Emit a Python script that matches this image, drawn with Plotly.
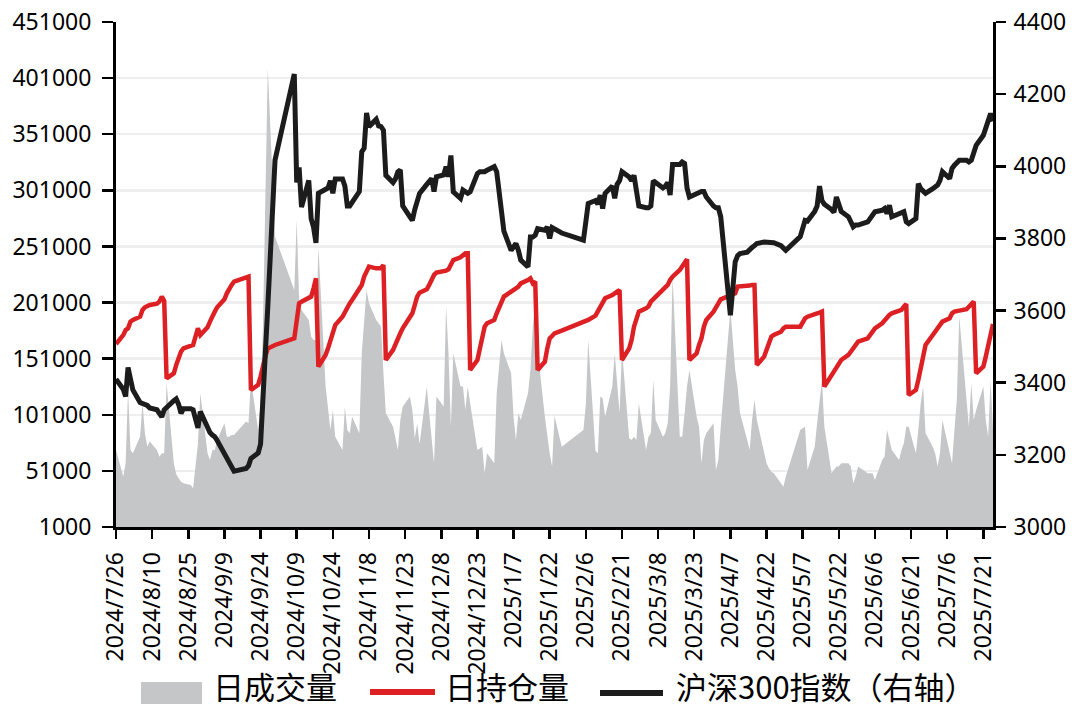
import plotly.graph_objects as go

# ---------------- data ----------------
trade_dates = [
    "2024-07-26", "2024-07-29", "2024-07-30", "2024-07-31",
    "2024-08-01", "2024-08-02", "2024-08-05", "2024-08-06", "2024-08-07", "2024-08-08", "2024-08-09", "2024-08-12", "2024-08-13", "2024-08-14", "2024-08-15", "2024-08-16", "2024-08-19", "2024-08-20", "2024-08-21", "2024-08-22", "2024-08-23", "2024-08-26", "2024-08-27", "2024-08-28", "2024-08-29", "2024-08-30",
    "2024-09-02", "2024-09-03", "2024-09-04", "2024-09-05", "2024-09-06", "2024-09-09", "2024-09-10", "2024-09-11", "2024-09-12", "2024-09-13", "2024-09-18", "2024-09-19", "2024-09-20", "2024-09-23", "2024-09-24", "2024-09-25", "2024-09-26", "2024-09-27", "2024-09-30",
    "2024-10-08", "2024-10-09", "2024-10-10", "2024-10-11", "2024-10-14", "2024-10-15", "2024-10-16", "2024-10-17", "2024-10-18", "2024-10-21", "2024-10-22", "2024-10-23", "2024-10-24", "2024-10-25", "2024-10-28", "2024-10-29", "2024-10-30", "2024-10-31",
    "2024-11-01", "2024-11-04", "2024-11-05", "2024-11-06", "2024-11-07", "2024-11-08", "2024-11-11", "2024-11-12", "2024-11-13", "2024-11-14", "2024-11-15", "2024-11-18", "2024-11-19", "2024-11-20", "2024-11-21", "2024-11-22", "2024-11-25", "2024-11-26", "2024-11-27", "2024-11-28", "2024-11-29",
    "2024-12-02", "2024-12-03", "2024-12-04", "2024-12-05", "2024-12-06", "2024-12-09", "2024-12-10", "2024-12-11", "2024-12-12", "2024-12-13", "2024-12-16", "2024-12-17", "2024-12-18", "2024-12-19", "2024-12-20", "2024-12-23", "2024-12-24", "2024-12-25", "2024-12-26", "2024-12-27", "2024-12-30", "2024-12-31",
    "2025-01-02", "2025-01-03", "2025-01-06", "2025-01-07", "2025-01-08", "2025-01-09", "2025-01-10", "2025-01-13", "2025-01-14", "2025-01-15", "2025-01-16", "2025-01-17", "2025-01-20", "2025-01-21", "2025-01-22", "2025-01-23", "2025-01-24", "2025-01-27",
    "2025-02-05", "2025-02-06", "2025-02-07", "2025-02-10", "2025-02-11", "2025-02-12", "2025-02-13", "2025-02-14", "2025-02-17", "2025-02-18", "2025-02-19", "2025-02-20", "2025-02-21", "2025-02-24", "2025-02-25", "2025-02-26", "2025-02-27", "2025-02-28",
    "2025-03-03", "2025-03-04", "2025-03-05", "2025-03-06", "2025-03-07", "2025-03-10", "2025-03-11", "2025-03-12", "2025-03-13", "2025-03-14", "2025-03-17", "2025-03-18", "2025-03-19", "2025-03-20", "2025-03-21", "2025-03-24", "2025-03-25", "2025-03-26", "2025-03-27", "2025-03-28", "2025-03-31",
    "2025-04-01", "2025-04-02", "2025-04-03", "2025-04-07", "2025-04-08", "2025-04-09", "2025-04-10", "2025-04-11", "2025-04-14", "2025-04-15", "2025-04-16", "2025-04-17", "2025-04-18", "2025-04-21", "2025-04-22", "2025-04-23", "2025-04-24", "2025-04-25", "2025-04-28", "2025-04-29", "2025-04-30",
    "2025-05-06", "2025-05-07", "2025-05-08", "2025-05-09", "2025-05-12", "2025-05-13", "2025-05-14", "2025-05-15", "2025-05-16", "2025-05-19", "2025-05-20", "2025-05-21", "2025-05-22", "2025-05-23", "2025-05-26", "2025-05-27", "2025-05-28", "2025-05-29", "2025-05-30",
    "2025-06-03", "2025-06-04", "2025-06-05", "2025-06-06", "2025-06-09", "2025-06-10", "2025-06-11", "2025-06-12", "2025-06-13", "2025-06-16", "2025-06-17", "2025-06-18", "2025-06-19", "2025-06-20", "2025-06-23", "2025-06-24", "2025-06-25", "2025-06-26", "2025-06-27", "2025-06-30",
    "2025-07-01", "2025-07-02", "2025-07-03", "2025-07-04", "2025-07-07", "2025-07-08", "2025-07-09", "2025-07-10", "2025-07-11", "2025-07-14", "2025-07-15", "2025-07-16", "2025-07-17", "2025-07-18", "2025-07-21", "2025-07-22", "2025-07-23", "2025-07-24", "2025-07-25",
]

# 日成交量 (left axis)
daily_volume = [
    69600, 45900, 57800, 123100,
    69600, 66700, 81500, 111200, 84500, 72600, 77100, 69600, 63700, 66700, 66700, 129000, 57800, 48000, 44400, 41400, 40000, 38500, 35500, 57800, 75000, 120100,
    66700, 60700, 69600, 69600, 78600, 93400, 81500, 81500, 83000, 83000, 94900, 93400, 132000, 87500, 111200, 180000, 280000, 410000, 259700,
    212200, 274600, 203300, 194400, 185500, 170600, 167700, 167700, 250800, 126100, 105300, 87500, 105300, 81500, 69600, 108200, 87500, 84500,
    99300, 84500, 155800, 185500, 212200, 200300, 185500, 182500, 179500, 138000, 102300, 90400, 78600, 69600, 96400, 108200, 117200, 105000, 80000, 93000, 75000,
    126000, 102300, 78600, 57800, 117200, 108300, 197400, 155800, 90400, 155800, 126100, 126100, 105300, 126100, 111200, 69600, 71000, 72600, 48800, 66700, 57800, 120100,
    167700, 155800, 138000, 99300, 78600, 102300, 96400, 120100, 140900, 180000, 200300, 158800, 99300, 81500, 66700, 54800, 100000, 72600,
    87500, 110000, 167700, 69000, 66700, 117200, 115700, 99300, 126100, 155800, 126100, 102300, 158800, 80000, 78600, 81500, 78600, 111200,
    69600, 81500, 84500, 132000, 96400, 81500, 84500, 93400, 126100, 224100, 81500, 81500, 102300, 126100, 140900, 99300, 90400, 57800, 78600, 84500, 93400,
    51800, 60700, 90400, 195000, 170600, 140900, 126100, 102300, 78600, 69600, 96400, 114200, 96400, 66700, 57800, 53300, 50300, 48800, 40000, 36900, 45900,
    87500, 88900, 90400, 51800, 72600, 93400, 111200, 132000, 90400, 48800, 51800, 54800, 54800, 57800, 57800, 54800, 40000, 45900, 54800,
    48800, 48800, 48800, 42900, 60700, 63700, 87500, 78600, 69600, 60700, 69600, 75600, 90400, 90400, 66700, 87500, 111200, 126100, 84500, 72600,
    66700, 54800, 66700, 96400, 66700, 57800, 87500, 115000, 188400, 120000, 90400, 129000, 96400, 105300, 126100, 96400, 81500, 132000, 87500,
]

# 日持仓量 (left axis)
daily_open_interest = [
    164000, 172000, 176500, 178000,
    184000, 185500, 188400, 194400, 196800, 198300, 198800, 200000, 201800, 206300, 202400, 133500, 138000, 145400, 151400, 157300, 160200, 162300, 163200, 170600, 178000, 172100,
    178900, 184000, 187600, 192900, 196800, 203900, 209200, 213700, 216700, 219600, 223500, 224100, 123100, 127600, 135000, 146000, 153000, 160000, 163200,
    169100, 188400, 200300, 201800, 204800, 206300, 213700, 222600, 143900, 154300, 160200, 166200, 175000, 181000, 188400, 192900, 197400, 200300,
    203300, 212200, 216700, 224100, 230000, 233000, 231500, 231500, 231500, 234500, 149800, 158800, 164700, 169100, 173600, 178000, 187000, 191400, 198800, 206300, 209800,
    212800, 216700, 221100, 225600, 227700, 228500, 229400, 230600, 236000, 238900, 241300, 243400, 244900, 244900, 140900, 149800, 158800, 166200, 179500, 182500, 185500, 191400,
    201800, 206300, 210700, 212800, 213700, 215200, 218100, 221100, 222600, 218100, 219600, 140900, 148300, 160200, 169100, 171200, 173600, 176000,
    184000, 185500, 185500, 189300, 192900, 197400, 201800, 204800, 207700, 209800, 210700, 212200, 149800, 160200, 167700, 179500, 185500, 192900,
    195900, 197400, 201800, 203900, 206300, 212200, 213700, 216700, 221100, 224100, 230000, 233000, 236000, 239500, 149800, 155800, 163200, 169100, 179500, 185500, 192900,
    195900, 200300, 203900, 207700, 208600, 209200, 215200, 215200, 216100, 216100, 216700, 216700, 145400, 152800, 158800, 166200, 170600, 172100, 175000, 178000, 179500,
    179500, 184000, 187000, 188400, 191400, 191400, 192000, 192900, 126100, 136500, 140900, 143900, 146900, 149800, 154300, 157300, 160200, 163200, 166200,
    169100, 172100, 176600, 178000, 182500, 185500, 187000, 189900, 191400, 192900, 194400, 197400, 199700, 118600, 123100, 132000, 143900, 155800, 163200, 172100,
    175000, 179500, 181900, 184000, 187000, 191400, 192900, 192900, 193800, 195000, 197400, 200300, 201800, 138000, 143900, 152800, 161700, 170600, 182000,
]

# 沪深300指数 (right axis)
csi300_index = [
    3410, 3382, 3362, 3442,
    3410, 3380, 3345, 3342, 3342, 3337, 3330, 3325, 3315, 3305, 3325, 3332, 3350, 3355, 3340, 3315, 3328, 3328, 3325, 3300, 3275, 3320,
    3272, 3262, 3255, 3250, 3240, 3205, 3195, 3185, 3170, 3155, 3162, 3170, 3190, 3205, 3230, 3390, 3485, 3610, 4017,
    4256, 3955, 3997, 3887, 3961, 3855, 3831, 3788, 3925, 3935, 3940, 3960, 3925, 3965, 3965, 3945, 3890, 3890,
    3900, 3930, 4040, 4050, 4148, 4110, 4130, 4112, 4110, 4100, 3975, 3955, 3965, 3985, 3990, 3890, 3860, 3850, 3880, 3906, 3925,
    3950, 3960, 3966, 3930, 3971, 3976, 3999, 3971, 4030, 3929, 3911, 3934, 3929, 3925, 3929, 3980, 3985, 3985, 3985, 3989, 3999, 3985,
    3870, 3820, 3767, 3777, 3786, 3767, 3740, 3721, 3804, 3804, 3809, 3827, 3823, 3832, 3800, 3830, 3827, 3815,
    3795, 3845, 3897, 3905, 3895, 3920, 3883, 3925, 3945, 3911, 3950, 3960, 3985, 3970, 3960, 3975, 3930, 3890,
    3885, 3885, 3890, 3960, 3955, 3940, 3945, 3955, 3920, 4005, 4005, 4012, 4008, 3940, 3915, 3925, 3930, 3930, 3930, 3915, 3890,
    3885, 3885, 3860, 3587, 3675, 3735, 3752, 3758, 3762, 3770, 3775, 3780, 3786, 3790, 3790, 3790, 3790, 3788, 3780, 3775, 3767,
    3805, 3835, 3850, 3848, 3875, 3890, 3945, 3905, 3895, 3880, 3872, 3915, 3890, 3875, 3860, 3846, 3832, 3837, 3837,
    3846, 3855, 3869, 3874, 3878, 3883, 3869, 3892, 3860, 3869, 3874, 3874, 3846, 3841, 3855, 3952, 3938, 3929, 3925, 3938,
    3943, 3948, 3961, 3985, 3966, 3994, 4003, 4012, 4017, 4017, 4012, 4017, 4040, 4058, 4086, 4110, 4125, 4146, 4125,
]

assert len(trade_dates) == len(daily_volume) == len(daily_open_interest) == len(csi300_index)

x_tick_dates = [
    "2024-07-26", "2024-08-10", "2024-08-25", "2024-09-09", "2024-09-24", "2024-10-09",
    "2024-10-24", "2024-11-08", "2024-11-23", "2024-12-08", "2024-12-23", "2025-01-07",
    "2025-01-22", "2025-02-06", "2025-02-21", "2025-03-08", "2025-03-23", "2025-04-07",
    "2025-04-22", "2025-05-07", "2025-05-22", "2025-06-06", "2025-06-21", "2025-07-06",
    "2025-07-21",
]
x_tick_labels = [
    "2024/7/26", "2024/8/10", "2024/8/25", "2024/9/9", "2024/9/24", "2024/10/9",
    "2024/10/24", "2024/11/8", "2024/11/23", "2024/12/8", "2024/12/23", "2025/1/7",
    "2025/1/22", "2025/2/6", "2025/2/21", "2025/3/8", "2025/3/23", "2025/4/7",
    "2025/4/22", "2025/5/7", "2025/5/22", "2025/6/6", "2025/6/21", "2025/7/6",
    "2025/7/21",
]
left_ticks = [1000, 51000, 101000, 151000, 201000, 251000, 301000, 351000, 401000, 451000]
right_ticks = [3000, 3200, 3400, 3600, 3800, 4000, 4200, 4400]

series_names = ["日成交量", "日持仓量", "沪深300指数（右轴）"]

# ---------------- style ----------------
GRAY = "#c5c6c8"
RED = "#dd2024"
BLACK = "#1c1c1c"
TICK_FONT = dict(family="Noto Sans, Open Sans, sans-serif", size=23, color="#000000")
LEG_FONT = dict(family="Noto Sans CJK SC, Noto Sans, sans-serif", size=31, color="#000000")

fig = go.Figure()
fig.add_trace(go.Scatter(
    x=trade_dates, y=daily_volume, name=series_names[0], mode="lines",
    fill="tozeroy", fillcolor=GRAY, line=dict(color=GRAY, width=0), yaxis="y",
))
fig.add_trace(go.Scatter(
    x=trade_dates, y=daily_open_interest, name=series_names[1], mode="lines",
    line=dict(color=RED, width=4.5), yaxis="y",
))
fig.add_trace(go.Scatter(
    x=trade_dates, y=csi300_index, name=series_names[2], mode="lines",
    line=dict(color=BLACK, width=5), yaxis="y2",
))

fig.update_layout(
    width=1074, height=711,
    margin=dict(l=116, r=81, t=22, b=184, autoexpand=False),
    paper_bgcolor="white", plot_bgcolor="white",
    showlegend=False,
    xaxis=dict(
        type="date", range=["2024-07-26", "2025-07-25"],
        tickmode="array", tickvals=x_tick_dates, ticktext=x_tick_labels,
        tickangle=-90, tickfont=TICK_FONT,
        ticks="outside", ticklen=9, tickwidth=2.5, tickcolor="black",
        showline=True, linewidth=3, linecolor="black",
        showgrid=False, zeroline=False, ticklabelstandoff=4, automargin=False,
    ),
    yaxis=dict(
        range=[1000, 451000], tickmode="array", tickvals=left_ticks,
        ticktext=[str(v) for v in left_ticks], tickfont=TICK_FONT,
        ticks="outside", ticklen=11, tickwidth=2.5, tickcolor="black",
        showline=True, linewidth=3, linecolor="black",
        showgrid=True, gridcolor="#eeeeee", gridwidth=2.5, zeroline=False,
        ticklabelstandoff=6, automargin=False,
    ),
    yaxis2=dict(
        range=[3000, 4400], tickmode="array", tickvals=right_ticks,
        ticktext=[str(v) for v in right_ticks], tickfont=TICK_FONT,
        overlaying="y", side="right",
        ticks="outside", ticklen=10, tickwidth=2.5, tickcolor="black",
        showline=True, linewidth=3, linecolor="black",
        showgrid=False, zeroline=False, ticklabelstandoff=3, automargin=False,
    ),
)

# ---------------- custom legend (below the chart) ----------------
def px_x(p):
    return (p - 116) / 877.0

def px_y(p):
    return (527 - p) / 505.0

fig.add_shape(type="rect", xref="paper", yref="paper",
              x0=px_x(141), x1=px_x(202), y0=px_y(704), y1=px_y(682),
              fillcolor=GRAY, line=dict(width=0))
fig.add_shape(type="line", xref="paper", yref="paper",
              x0=px_x(370), x1=px_x(435), y0=px_y(692), y1=px_y(692),
              line=dict(color=RED, width=6))
fig.add_shape(type="line", xref="paper", yref="paper",
              x0=px_x(600), x1=px_x(663), y0=px_y(693), y1=px_y(693),
              line=dict(color=BLACK, width=6))
for name, left in zip(series_names, [212, 444, 675]):
    fig.add_annotation(text=name, xref="paper", yref="paper",
                       x=px_x(left), y=px_y(709), xanchor="left", yanchor="bottom",
                       borderpad=0, showarrow=False, font=LEG_FONT)

fig.write_html(
    "out.html",
    config={"displayModeBar": False, "staticPlot": True},
    post_script="document.body.style.margin='0';document.body.style.overflow='hidden';",
)
